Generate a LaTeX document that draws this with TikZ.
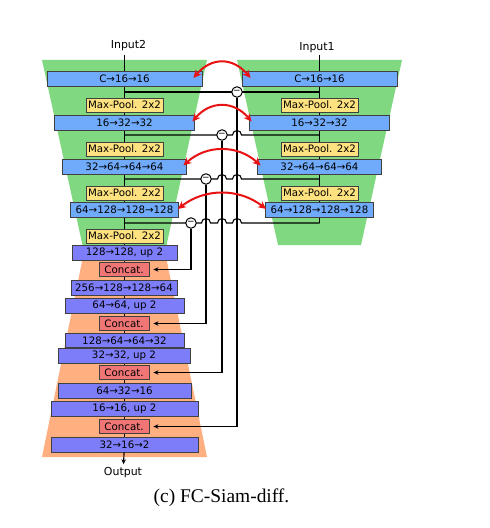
\documentclass[tikz,border=0pt]{standalone}
\usepackage{fontspec}
\setmainfont{DejaVu Sans}
\newfontfamily\capfont{Liberation Serif}
\usepackage{xcolor}
\usetikzlibrary{arrows.meta, positioning}

\definecolor{encgreen}{RGB}{128,216,128}
\definecolor{decorange}{RGB}{255,175,128}
\definecolor{convblue}{RGB}{112,170,250}
\definecolor{poolyellow}{RGB}{255,226,128}
\definecolor{upviolet}{RGB}{125,125,250}
\definecolor{catred}{RGB}{240,118,118}
\definecolor{linkred}{RGB}{232,18,18}

\begin{document}
\begin{tikzpicture}[
  x=1bp, y=-1bp,
  >={Stealth[length=5bp,width=4.5bp]},
  box/.style={draw=black!75, line width=0.8bp, inner sep=0pt, minimum height=15bp,
              font=\fontsize{10.3}{12}\selectfont},
  conv/.style={box, fill=convblue},
  pool/.style={box, fill=poolyellow, minimum height=14bp, minimum width=77bp},
  upc/.style={box, fill=upviolet},
  cat/.style={box, fill=catred, minimum height=14bp, minimum width=50bp},
  wire/.style={line width=1.1bp, black},
  diff/.style={circle, draw, fill=white, line width=1bp, minimum size=10.5bp,
               inner sep=0pt, font=\fontsize{9}{9}\selectfont},
  link/.style={linkred, line width=2bp,
               arrows={Stealth[length=8bp,width=7.5bp]-Stealth[length=8bp,width=7.5bp]}},
  io/.style={font=\fontsize{11}{13}\selectfont}
]
  \useasboundingbox (0,0) rectangle (490,528);

  % encoder / decoder bodies
  \fill[encgreen] (42,60) -- (207,60) -- (165,252) -- (84,252) -- cycle;
  \fill[encgreen] (237,60) -- (402,60) -- (361,245) -- (278,245) -- cycle;
  \fill[decorange] (84,252) -- (165,252) -- (207,457) -- (42,457) -- cycle;

  \node[io] (in2) at (128.5,45.5) {Input2};
  \node[io] (in1) at (317,48) {Input1};
  \node[io] (out) at (123,473) {Output};

  \coordinate (topL) at (124.5,55);
  \coordinate (topR) at (319.5,55);
  \coordinate (botL) at (124.5,452);
  \foreach \k/\y in {1/92,2/135,3/179,4/223} {
    \coordinate (sl\k) at (124.5,\y);
    \coordinate (sr\k) at (319.5,\y);
  }
  \draw[wire] (topL) -- (botL);
  \draw[wire] (topR) -- (sr4);

  % skip connections with hops
  \draw[wire] (sl1) -- (sr1);
  \draw[wire] (sl2) -- (232.5,135) arc[start angle=180, end angle=360, radius=4.5] -- (sr2);
  \draw[wire] (sl3) -- (217.5,179) arc[start angle=180, end angle=360, radius=4.5]
              -- (232.5,179) arc[start angle=180, end angle=360, radius=4.5] -- (sr3);
  \draw[wire] (sl4) -- (201.5,223) arc[start angle=180, end angle=360, radius=4.5]
              -- (217.5,223) arc[start angle=180, end angle=360, radius=4.5]
              -- (232.5,223) arc[start angle=180, end angle=360, radius=4.5] -- (sr4);

  \node[diff] (m1) at (237,92) {−};
  \node[diff] (m2) at (222,135) {−};
  \node[diff] (m3) at (206,179) {−};
  \node[diff] (m4) at (191,223) {−};

  % encoders
  \foreach \k/\y/\w/\txt in {1/79/155/{C→16→16}, 2/122.5/140/{16→32→32},
      3/166.5/124/{32→64→64→64}, 4/210/108/{64→128→128→128}} {
    \node[conv, minimum width=\w*1bp] (cl\k) at (124.5,\y) {\txt};
    \node[conv, minimum width=\w*1bp] (cr\k) at (319.5,\y) {\txt};
  }
  \foreach \k/\y in {1/105,2/149,3/193,4/236}
    \node[pool] (pl\k) at (124.5,\y) {Max-Pool. 2x2};
  \foreach \k/\y in {1/105,2/149,3/193}
    \node[pool] (pr\k) at (319.5,\y) {Max-Pool. 2x2};

  % decoder
  \node[upc, minimum width=105bp] (u1) at (124.5,252.5) {128→128, up 2};
  \node[cat] (c1) at (124,269.5) {Concat.};
  \node[upc, minimum width=106bp] (d1) at (124,287.5) {256→128→128→64};
  \node[upc, minimum width=119bp] (u2) at (124.5,305.5) {64→64, up 2};
  \node[cat] (c2) at (124,323.5) {Concat.};
  \node[upc, minimum width=119bp, minimum height=14bp] (d2) at (124.5,340.5) {128→64→64→32};
  \node[upc, minimum width=132bp] (u3) at (124,356) {32→32, up 2};
  \node[cat] (c3) at (124,372.5) {Concat.};
  \node[upc, minimum width=133bp] (d3) at (124.5,390.5) {64→32→16};
  \node[upc, minimum width=147bp] (u4) at (124.5,408.5) {16→16, up 2};
  \node[cat] (c4) at (124,426.5) {Concat.};
  \node[upc, minimum width=147bp] (d4) at (124.5,444.5) {32→16→2};

  \draw[wire,->] (d4) -- (out);

  \draw[wire,->,shorten >=4bp] (m4) |- (c1);
  \draw[wire,->,shorten >=4bp] (m3) |- (c2);
  \draw[wire,->,shorten >=4bp] (m2) |- (c3);
  \draw[wire,->,shorten >=4bp] (m1) |- (c4);

  % shared weights
  \foreach \k/\s/\dx in {1/9/18, 2/2.5/18, 3/3.5/23, 4/1/27}
    \draw[link] ([xshift=-\s*1bp,yshift=1bp]cl\k.east)
      .. controls +(\dx,-21) and +(-\dx,-21) .. ([xshift=\s*1bp,yshift=1bp]cr\k.west);

  \node[font=\capfont\fontsize{19.5}{23}\selectfont] (cap) at (221.5,498) {(c) FC-Siam-diff.};
\end{tikzpicture}
\end{document}
